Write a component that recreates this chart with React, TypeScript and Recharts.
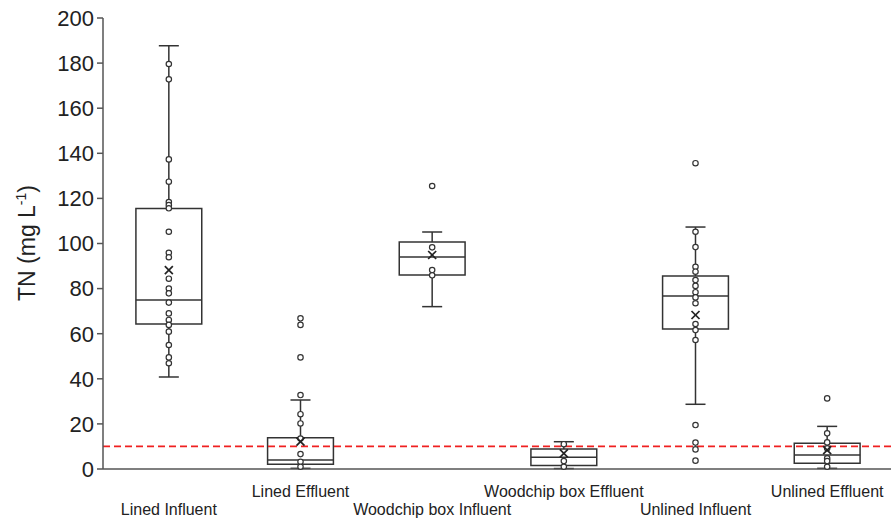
import React from "react";
import {
  ComposedChart,
  XAxis,
  YAxis,
  Scatter,
  ReferenceArea,
  ReferenceLine,
} from "recharts";

const categories = [
  "Lined Influent",
  "Lined Effluent",
  "Woodchip box Influent",
  "Woodchip box Effluent",
  "Unlined Influent",
  "Unlined Effluent",
];

const whiskerLow = [40.8, 0.3, 72, 0.2, 28.7, 0.3];
const q1 = [64.3, 2.1, 86, 1.5, 62.1, 2.5];
const median = [75, 4, 94, 5.2, 76.7, 6.2];
const q3 = [115.5, 13.9, 100.7, 8.9, 85.6, 11.4];
const whiskerHigh = [187.7, 30.6, 105.1, 12.1, 107.3, 18.9];
const mean = [88.2, 12.1, 94.9, 6.9, 68.3, 8.4];

const observations = [
  [179.6, 172.8, 137.3, 127.4, 118.4, 117, 115.6, 105.2, 95.9, 93.9, 84.4, 80, 77.9, 73.8, 69, 66.1, 63.9, 60.9, 55, 49.5, 46.9],
  [66.8, 63.9, 49.5, 32.8, 24.3, 20.2, 13.5, 6.6, 3.2, 1.0],
  [125.5, 98.3, 88.2, 85.9],
  [11, 3.5, 1.0],
  [135.6, 105.2, 98.4, 89.7, 87.5, 83.8, 81.2, 78.4, 76.1, 73.5, 64.3, 61.6, 57.2, 19.5, 11.7, 8.7, 3.7],
  [31.3, 15.8, 11.8, 9.2, 4.7, 3.5, 1.0],
];

const yTicks = [0, 20, 40, 60, 80, 100, 120, 140, 160, 180, 200];
const threshold = 10;

const BOX_HALF = 0.25;
const CAP_HALF = 0.076;
const INK = "#333";

const centers = categories.map((_, i) => i + 0.5);
const pointData = observations.flatMap((vals, i) =>
  vals.map((v) => ({ x: centers[i], y: v }))
);
const meanData = mean.map((v, i) => ({ x: centers[i], y: v }));

const CatTick = (props: any) => {
  const { x, y, payload } = props;
  const i = Math.floor(payload.value);
  return (
    <text
      x={x}
      y={y + (i % 2 === 0 ? 46 : 28)}
      textAnchor="middle"
      fontSize={16}
      fill="#222"
    >
      {categories[i]}
    </text>
  );
};

const renderYTitle = () => (
  <text
    x={35}
    y={243}
    transform="rotate(-90, 35, 243)"
    textAnchor="middle"
    fontSize={23}
    fill="#222"
  >
    TN (mg L
    <tspan fontSize={14} dy={-9}>
      -1
    </tspan>
    <tspan dy={9}>)</tspan>
  </text>
);

const Dot = (props: any) => (
  <circle cx={props.cx} cy={props.cy} r={2.7} fill="#fff" stroke={INK} strokeWidth={1.2} />
);

const Cross = (props: any) => {
  const { cx, cy } = props;
  const s = 4;
  return (
    <g stroke="#222" strokeWidth={1.7}>
      <line x1={cx - s} y1={cy - s} x2={cx + s} y2={cy + s} />
      <line x1={cx - s} y1={cy + s} x2={cx + s} y2={cy - s} />
    </g>
  );
};

export default function App() {
  return (
    <div
      style={{
        position: "absolute",
        left: 0,
        top: 0,
        width: 891,
        height: 522,
        overflow: "hidden",
        background: "#fff",
        fontFamily: "'Liberation Sans', Arial, sans-serif",
      }}
    >
      <ComposedChart
        width={893}
        height={522}
        margin={{ top: 18, right: 0, bottom: 0, left: 0 }}
      >
        <XAxis
          type="number"
          dataKey="x"
          domain={[0, 6]}
          ticks={centers}
          tick={<CatTick />}
          tickLine={false}
          tickSize={0}
          tickMargin={0}
          height={53}
          axisLine={{ stroke: "#555", strokeWidth: 1.5 }}
          interval={0}
        />
        <YAxis
          type="number"
          dataKey="y"
          domain={[0, 200]}
          ticks={yTicks}
          width={103}
          tickSize={6}
          tickMargin={3}
          tick={{ fontSize: 22, fill: "#222" }}
          axisLine={{ stroke: "#555", strokeWidth: 1.5 }}
          tickLine={{ stroke: "#555", strokeWidth: 1.5 }}
          label={renderYTitle}
        />

        {centers.map((c, i) => (
          <ReferenceArea
            key={`box-${i}`}
            x1={c - BOX_HALF}
            x2={c + BOX_HALF}
            y1={q1[i]}
            y2={q3[i]}
            fill="#fff"
            fillOpacity={1}
            stroke={INK}
            strokeWidth={1.5}
          />
        ))}
        {centers.map((c, i) => (
          <ReferenceLine
            key={`med-${i}`}
            segment={[
              { x: c - BOX_HALF, y: median[i] },
              { x: c + BOX_HALF, y: median[i] },
            ]}
            stroke={INK}
            strokeWidth={1.5}
          />
        ))}
        {centers.map((c, i) => (
          <ReferenceLine
            key={`wh-${i}`}
            segment={[
              { x: c, y: q3[i] },
              { x: c, y: whiskerHigh[i] },
            ]}
            stroke={INK}
            strokeWidth={1.5}
          />
        ))}
        {centers.map((c, i) => (
          <ReferenceLine
            key={`wl-${i}`}
            segment={[
              { x: c, y: whiskerLow[i] },
              { x: c, y: q1[i] },
            ]}
            stroke={INK}
            strokeWidth={1.5}
          />
        ))}
        {centers.map((c, i) => (
          <ReferenceLine
            key={`ch-${i}`}
            segment={[
              { x: c - CAP_HALF, y: whiskerHigh[i] },
              { x: c + CAP_HALF, y: whiskerHigh[i] },
            ]}
            stroke={INK}
            strokeWidth={1.5}
          />
        ))}
        {centers.map((c, i) => (
          <ReferenceLine
            key={`cl-${i}`}
            segment={[
              { x: c - CAP_HALF, y: whiskerLow[i] },
              { x: c + CAP_HALF, y: whiskerLow[i] },
            ]}
            stroke={INK}
            strokeWidth={1.5}
          />
        ))}

        <ReferenceLine
          y={threshold}
          stroke="#f02020"
          strokeWidth={1.8}
          strokeDasharray="7 4"
        />

        <Scatter data={pointData} shape={<Dot />} isAnimationActive={false} />
        <Scatter data={meanData} shape={<Cross />} isAnimationActive={false} />
      </ComposedChart>
    </div>
  );
}
